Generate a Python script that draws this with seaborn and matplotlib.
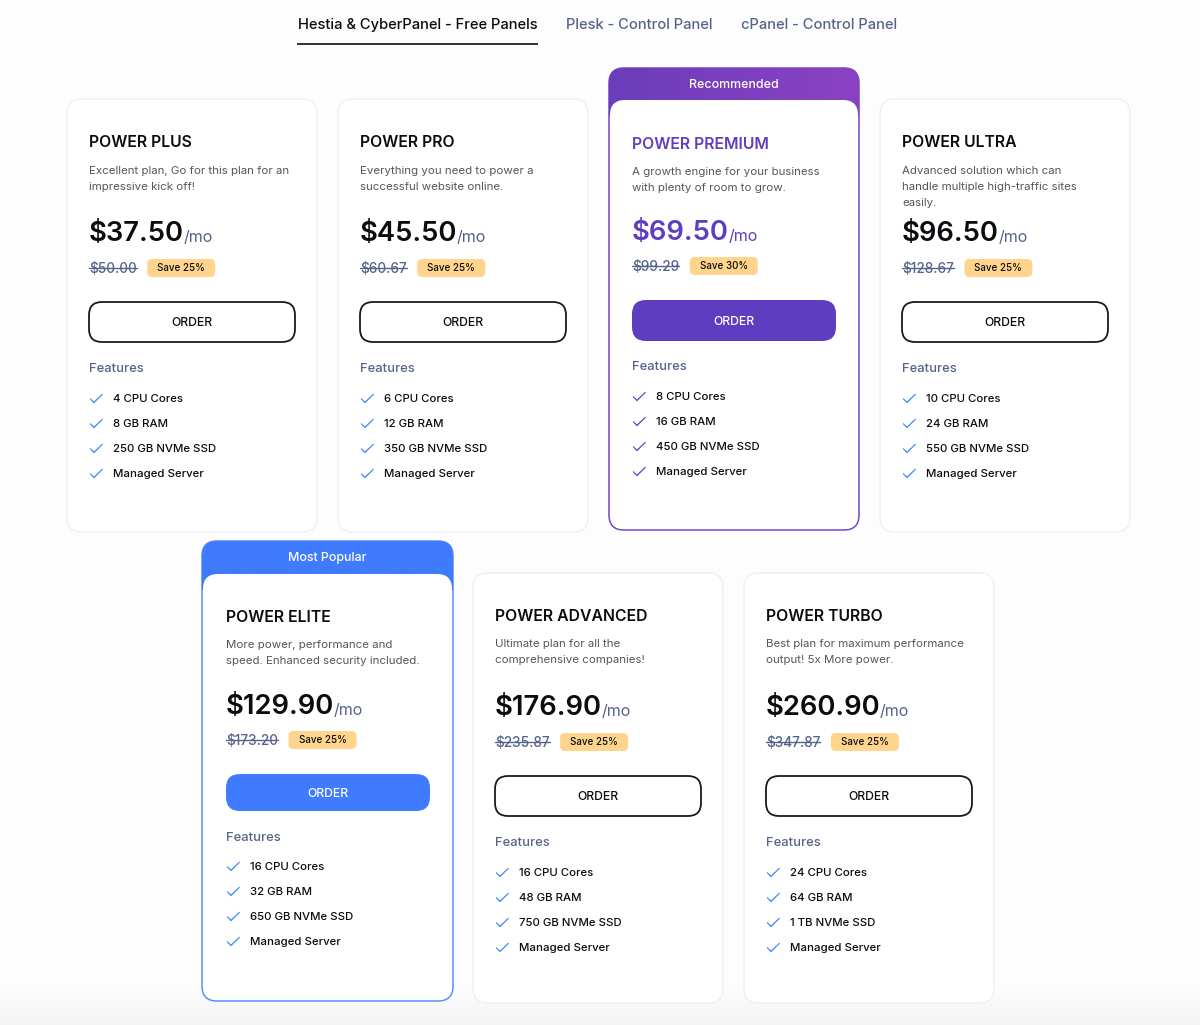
import matplotlib
matplotlib.use("Agg")
import matplotlib.pyplot as plt
import seaborn as sns
import numpy as np
from matplotlib.colors import LinearSegmentedColormap
from matplotlib.patches import FancyBboxPatch
from matplotlib.path import Path
from matplotlib.markers import MarkerStyle

# Plan data
plan_names = ["POWER PLUS", "POWER PRO", "POWER PREMIUM", "POWER ULTRA", "POWER ELITE", "POWER ADVANCED", "POWER TURBO"]
descriptions = [
    ["Excellent plan, Go for this plan for an", "impressive kick off!"],
    ["Everything you need to power a", "successful website online."],
    ["A growth engine for your business", "with plenty of room to grow."],
    ["Advanced solution which can", "handle multiple high-traffic sites", "easily."],
    ["More power, performance and", "speed. Enhanced security included."],
    ["Ultimate plan for all the", "comprehensive companies!"],
    ["Best plan for maximum performance", "output! 5x More power."],
]
prices = [37.50, 45.50, 69.50, 96.50, 129.90, 176.90, 260.90]
old_prices = [50.00, 60.67, 99.29, 128.67, 173.20, 235.87, 347.87]
savings = [25, 25, 30, 25, 25, 25, 25]
cpu_cores = [4, 6, 8, 10, 16, 16, 24]
ram_gb = [8, 12, 16, 24, 32, 48, 64]
storage = ["250 GB", "350 GB", "450 GB", "550 GB", "650 GB", "750 GB", "1 TB"]
tab_labels = ["Hestia & CyberPanel - Free Panels", "Plesk - Control Panel", "cPanel - Control Panel"]
banners = {2: "Recommended", 4: "Most Popular"}

# Layout in pixels of the page
card_left = [67, 338, 609, 880, 202, 473, 744]
card_right = [317, 588, 859, 1130, 453, 723, 994]
card_top = [99, 99, 68, 99, 541, 573, 573]
card_bottom = [532, 532, 530, 532, 1001, 1003, 1003]
text_x = [89, 360, 632, 902, 226, 495, 766]
btn_width = [206, 206, 204, 206, 204, 206, 206]
title_y = [141, 141, 143, 141, 616, 615, 615]
desc_y = [169.5, 169.5, 171, 169.5, 644, 643, 643]
price_y = [231, 231, 230, 231, 704, 705, 705]
old_y = [268, 268, 266, 268, 740, 742, 742]
btn_top = [302, 302, 300, 302, 774, 776, 776]
btn_bottom = [342, 342, 341, 342, 811, 816, 816]
feat_y = [367, 367, 365, 367, 836, 841, 841]
item_y = [398, 398, 395.5, 398, 866, 872, 872]

INK = "#0c0c10"
SLATE = "#56648a"
GREY = "#55555c"
PURPLE = "#5f3dc0"
BLUE = "#3f7bfc"
PAGE = "#fdfdfd"

sns.set_theme(style="white")
plt.rcParams["font.family"] = ["Inter", "DejaVu Sans"]

fig = plt.figure(figsize=(12, 10.25), dpi=100, facecolor=PAGE)
ax = fig.add_axes([0, 0, 1, 1])
ax.set_facecolor(PAGE)
ax.axis("off")


def put(x, y, s, px, color=INK, weight="normal", ha="left"):
    # y is the middle of the capitals, size is in page pixels
    return ax.text(x, y + 0.36 * px, s, fontsize=px * 0.72, color=color, fontweight=weight,
                   ha=ha, va="baseline", zorder=6)


def box(x0, y0, x1, y1, r, face, edge="none", lw=0, z=2):
    p = FancyBboxPatch((x0 + r, y0 + r), x1 - x0 - 2 * r, y1 - y0 - 2 * r,
                       boxstyle=f"round,pad={r},rounding_size={r}",
                       facecolor=face, edgecolor=edge, linewidth=lw, zorder=z)
    ax.add_patch(p)
    return p


def right_edge(t):
    bb = t.get_window_extent(fig.canvas.get_renderer())
    return ax.transData.inverted().transform((bb.x1, bb.y0))[0]


# Faint shading at the foot of the page
ax.imshow(np.linspace(0, 1, 40).reshape(-1, 1), extent=(0, 1200, 1025, 985), aspect="auto",
          cmap=LinearSegmentedColormap.from_list("foot", [PAGE, "#f4f4f4"]), zorder=0)
ax.set_xlim(0, 1200)
ax.set_ylim(1025, 0)

# Tabs
put(298, 24, tab_labels[0], 14.7, INK, "medium")
put(566, 24, tab_labels[1], 14.7, SLATE, "medium")
put(741, 24, tab_labels[2], 14.7, SLATE, "medium")
ax.plot([297, 538], [43.5, 43.5], color="#111111", lw=1.2, zorder=3, solid_capstyle="butt")

# Check mark as a thin closed polygon
check = Path([(-1, 0.1), (-0.38, -0.45), (0.88, 0.75), (1, 0.62), (-0.38, -0.75), (-1, -0.12), (-1, 0.1)], closed=True)
check_marker = MarkerStyle(check)

for i, name in enumerate(plan_names):
    x0, x1, y0, y1 = card_left[i], card_right[i], card_top[i], card_bottom[i]
    featured = i in banners
    accent = PURPLE if i == 2 else BLUE

    if featured:
        # Coloured banner behind the white card
        head = box(x0, y0, x1, y1, 15, "white", "#5b8dfa" if i == 4 else "#7446c8", 1.1, z=2)
        colors = ["#6b3dbb", "#8b42c2"] if i == 2 else [BLUE, BLUE]
        inner_top = 100 if i == 2 else 574
        grad = ax.imshow(np.linspace(0, 1, 256).reshape(1, -1), extent=(x0, x1, inner_top + 16, y0),
                         aspect="auto", zorder=2.5,
                         cmap=LinearSegmentedColormap.from_list("b", colors))
        grad.set_clip_path(head)
        box(x0 + 1, inner_top, x1 - 1, y1 - 1, 15, "white", z=3)
        put((x0 + x1) / 2, y0 + 15.5, banners[i], 12.4, "white", "medium", ha="center")
    else:
        box(x0, y0, x1, y1, 15, "white", "#f0f0f0", 1.0)

    tx = text_x[i]
    put(tx, title_y[i], name, 15.8, PURPLE if i == 2 else INK, "semibold")

    for j, line in enumerate(descriptions[i]):
        put(tx, desc_y[i] + j * 16.2, line, 11.5, GREY)

    # Price line
    pt = put(tx, price_y[i], f"${prices[i]:.2f}", 27.4, PURPLE if i == 2 else INK, "semibold")
    put(right_edge(pt) - 0.5, price_y[i] + 5, "/mo", 16, PURPLE if i == 2 else SLATE)

    # Old price, struck through, and the saving badge
    ot = put(tx, old_y[i], f"${old_prices[i]:.2f}", 13.6, SLATE, "medium")
    oe = right_edge(ot)
    ax.plot([tx, oe], [old_y[i], old_y[i]], color=SLATE, lw=1, zorder=7)
    bx = oe + 10.5
    box(bx, old_y[i] - 9, bx + 68, old_y[i] + 9, 5, "#ffd48c", z=4)
    put(bx + 34, old_y[i] - 0.5, f"Save {savings[i]}%", 9.8, INK, "medium", ha="center")

    # Order button
    if featured:
        box(tx, btn_top[i], tx + btn_width[i], btn_bottom[i], 14, accent, z=4)
        btn_color = "white"
    else:
        box(tx, btn_top[i], tx + btn_width[i], btn_bottom[i], 13, "white", "#1a1a1a", 1.3, z=4)
        btn_color = INK
    put(tx + btn_width[i] / 2, (btn_top[i] + btn_bottom[i]) / 2, "ORDER", 12.2, btn_color, "medium", ha="center")

    # Feature list
    put(tx, feat_y[i], "Features", 13, SLATE, "medium")
    features = [f"{cpu_cores[i]} CPU Cores", f"{ram_gb[i]} GB RAM", f"{storage[i]} NVMe SSD", "Managed Server"]
    rows = [item_y[i] + k * 25.1 for k in range(len(features))]
    for y, f in zip(rows, features):
        put(tx + 24, y, f, 11.4, INK, "medium")
    sns.scatterplot(x=[tx + 6.5] * len(rows), y=rows, marker=check_marker, s=88,
                    color="#6a42c8" if i == 2 else "#3f8cf5", linewidth=0, ax=ax, zorder=6, legend=False)

ax.set_xlim(0, 1200)
ax.set_ylim(1025, 0)
fig.savefig("out.png", dpi=100, facecolor=fig.get_facecolor())
